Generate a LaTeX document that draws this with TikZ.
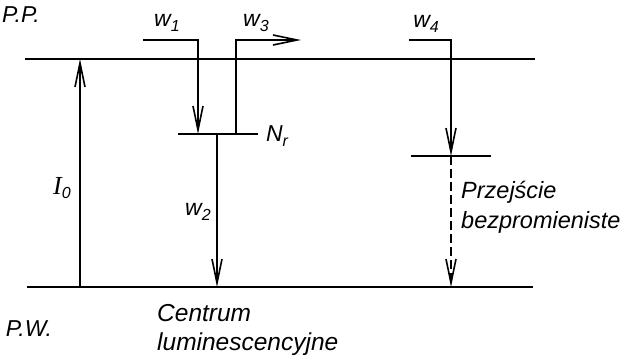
\documentclass[tikz,border=0pt]{standalone}
\usepackage{fontspec}
\setmainfont{Liberation Sans}
\newfontfamily\serifI{Liberation Serif}
\usetikzlibrary{arrows.meta}
\newcommand\sublab[2]{#1\raisebox{-0.4ex}{\fontsize{16}{16}\selectfont #2}}
\begin{document}
\begin{tikzpicture}[x=1pt,y=-1pt,
  level/.style={line width=2.6pt},
  sublevel/.style={line width=1.5pt},
  trans/.style={line width=1.4pt},
  tip/.style={-{Straight Barb[length=24pt,width=10pt,line width=1.6pt]}},
  lbl/.style={font=\itshape\fontsize{24.5}{29}\selectfont, inner sep=0pt, align=left},
  sym/.style={font=\itshape\fontsize{23}{26}\selectfont, inner sep=0pt},
]
\useasboundingbox (0,0) rectangle (624,359);
% coordinates
\coordinate (ppL) at (25,59);  \coordinate (ppR) at (535,59);
\coordinate (pwL) at (27,287); \coordinate (pwR) at (533,287);
\coordinate (i0b) at (80,287); \coordinate (i0t) at (80,59);
\coordinate (nrL) at (178,134); \coordinate (nrR) at (258,134);
\coordinate (w1s) at (143,40); \coordinate (w1c) at (198,40); \coordinate (w1e) at (198,134);
\coordinate (w3s) at (236,134); \coordinate (w3c) at (236,40); \coordinate (w3e) at (301,40);
\coordinate (w2s) at (217,134); \coordinate (w2e) at (217,287);
\coordinate (w4s) at (409,40); \coordinate (w4c) at (451,40); \coordinate (w4e) at (451,156);
\coordinate (l2L) at (411,156); \coordinate (l2R) at (491,156);
\coordinate (dE) at (451,287);
% levels
\draw[level] (ppL) -- (ppR);
\draw[level] (pwL) -- (pwR);
\draw[sublevel] (nrL) -- (nrR);
\draw[sublevel] (l2L) -- (l2R);
% transitions
\draw[trans,tip] (i0b) -- (i0t);
\draw[trans,tip] (w1s) -- (w1c) -- (w1e);
\draw[trans,tip] (w3s) -- (w3c) -- (w3e);
\draw[trans,tip] (w2s) -- (w2e);
\draw[trans,tip] (w4s) -- (w4c) -- (w4e);
\draw[trans,tip,dash pattern=on 9pt off 4pt] (w4e) -- (dE);
% labels
\node[sym] (pp) at (21,15) {P.P.};
\node[sym] (pw) at (29,329) {P.W.};
\node[sym] (w1) at (167,23) {\sublab{w}{1}};
\node[sym] (w3) at (256,23) {\sublab{w}{3}};
\node[sym] (w4) at (426,24) {\sublab{w}{4}};
\node[sym] (nr) at (277,136) {\sublab{N}{r}};
\node[sym] (i0) at (62,188) {\sublab{{\serifI\fontsize{26}{26}\selectfont I}}{0}};
\node[sym] (w2) at (198,212) {\sublab{w}{2}};
\node[lbl,anchor=north west] (cl) at (157,304) {Centrum\\luminescencyjne};
\node[lbl,font=\itshape\fontsize{23.5}{30}\selectfont,anchor=north west] (pb) at (461,181) {Przejście\\bezpromieniste};
\end{tikzpicture}
\end{document}
